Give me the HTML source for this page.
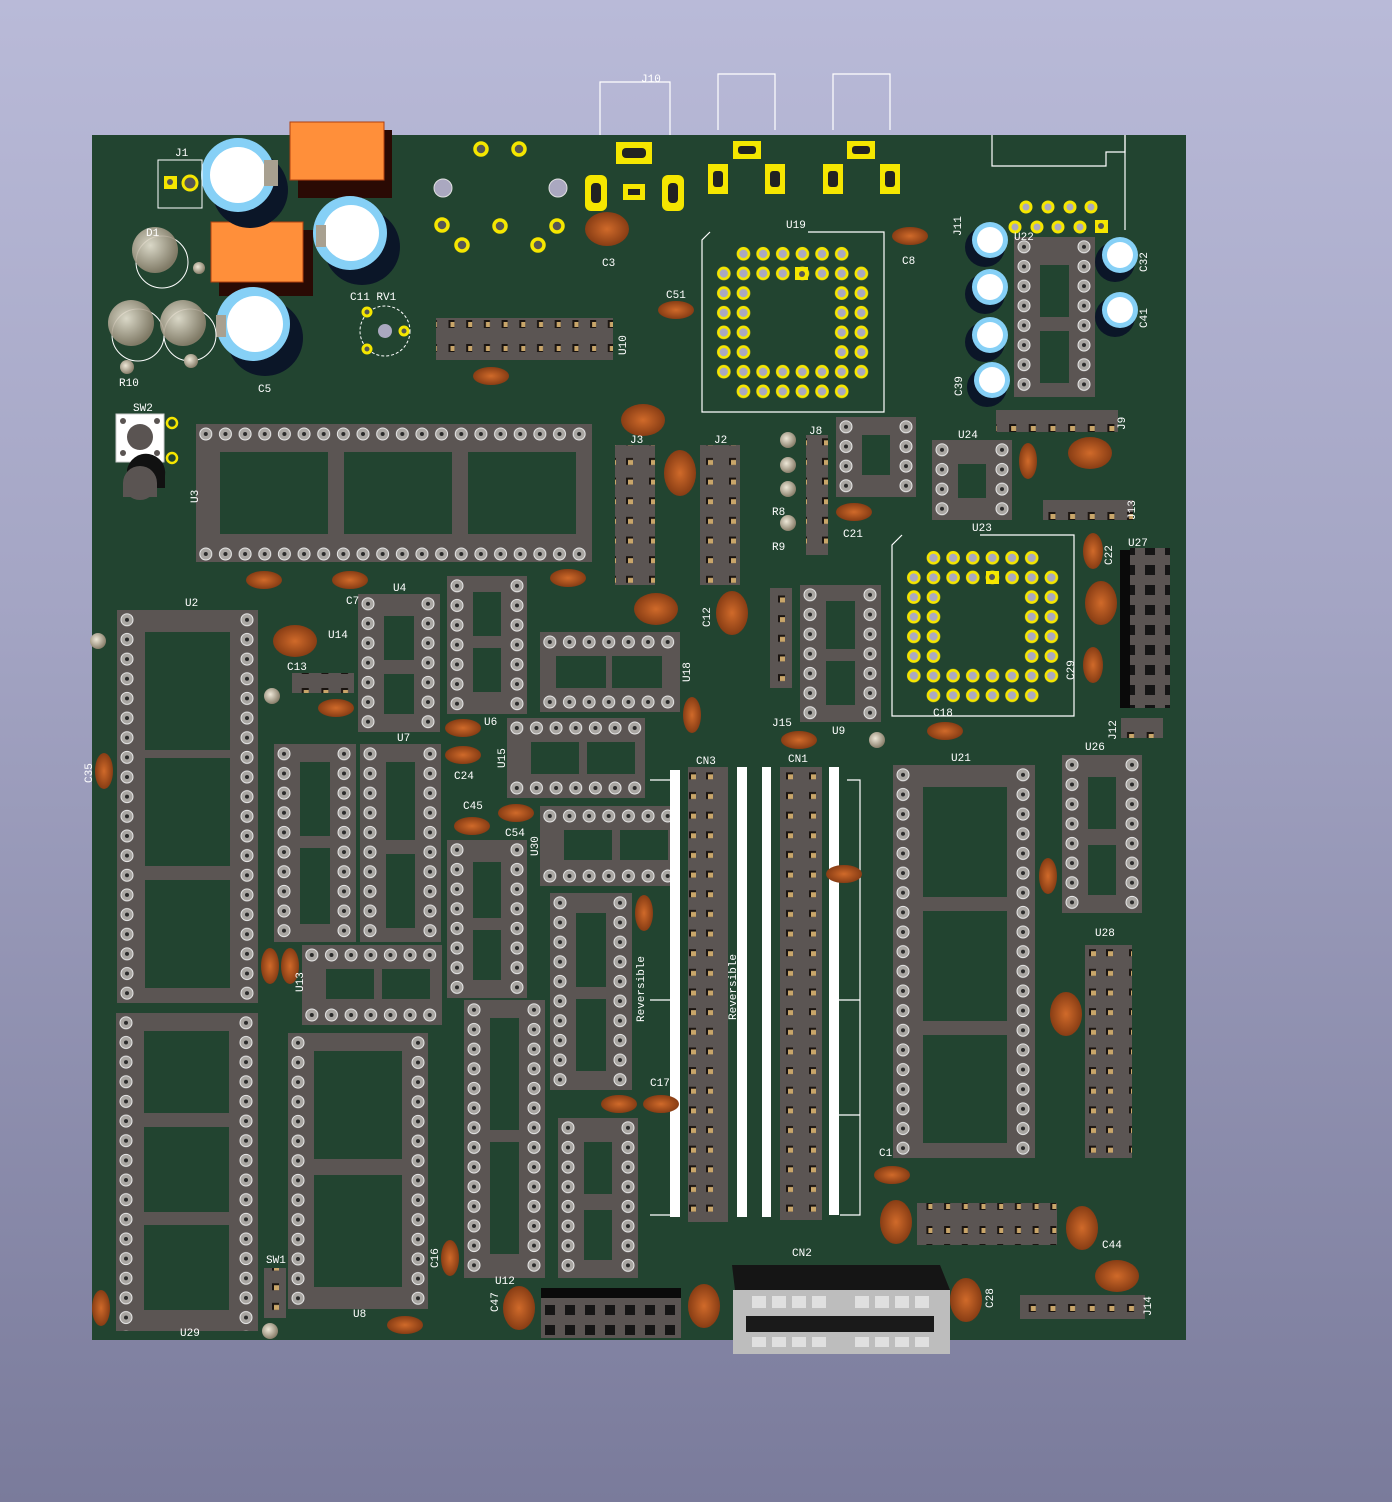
<!DOCTYPE html>
<html><head><meta charset="utf-8"><style>
html,body{margin:0;padding:0}
body{width:1392px;height:1502px;overflow:hidden;background:linear-gradient(#b9bad8 0%,#a4a5c4 40%,#7a7b9b 100%)}
svg{display:block}
text{font-family:"Liberation Mono","DejaVu Sans Mono",monospace;font-size:11px;fill:#fff}
</style></head><body>
<svg width="1392" height="1502" viewBox="0 0 1392 1502" xmlns="http://www.w3.org/2000/svg">
<defs>
<pattern id="pv" width="20" height="19.65" patternUnits="userSpaceOnUse">
<circle cx="10" cy="9.8" r="6" fill="#a9a6a2" stroke="#e8e8e8" stroke-width="1"/><circle cx="10" cy="9.8" r="2" fill="#2a2a2a"/></pattern>
<pattern id="ph" width="19.65" height="20" patternUnits="userSpaceOnUse">
<circle cx="9.8" cy="10" r="6" fill="#a9a6a2" stroke="#e8e8e8" stroke-width="1"/><circle cx="9.8" cy="10" r="2" fill="#2a2a2a"/></pattern>
<pattern id="pg2" width="40" height="19.65" patternUnits="userSpaceOnUse">
<rect x="9" y="6" width="7" height="7" fill="#1a1410"/><rect x="11" y="8" width="5" height="5" fill="#c9a66a"/>
<rect x="26" y="6" width="7" height="7" fill="#1a1410"/><rect x="28" y="8" width="5" height="5" fill="#c9a66a"/></pattern>
<pattern id="pg1" width="22" height="19.65" patternUnits="userSpaceOnUse">
<rect x="8" y="6" width="7" height="7" fill="#1a1410"/><rect x="10" y="8" width="5" height="5" fill="#c9a66a"/></pattern>
<pattern id="phg" width="17.7" height="42" patternUnits="userSpaceOnUse">
<rect x="6" y="8" width="6" height="8" fill="#1a1410"/><rect x="8" y="10" width="4" height="5" fill="#c9a66a"/>
<rect x="6" y="26" width="6" height="8" fill="#1a1410"/><rect x="8" y="28" width="4" height="5" fill="#c9a66a"/></pattern>
<pattern id="phg1" width="19.65" height="22" patternUnits="userSpaceOnUse">
<rect x="7" y="6" width="7" height="8" fill="#1a1410"/><rect x="9" y="8" width="5" height="5" fill="#c9a66a"/></pattern>
<pattern id="pk" width="20" height="20" patternUnits="userSpaceOnUse">
<rect x="5" y="5" width="10" height="10" fill="#151515"/></pattern>
<pattern id="py" width="19.65" height="19.65" patternUnits="userSpaceOnUse">
<circle cx="9.8" cy="9.8" r="5.5" fill="#aaa8c0" stroke="#f5e600" stroke-width="2.6"/></pattern>
<radialGradient id="cg" cx="0.5" cy="0.5" r="0.6"><stop offset="0" stop-color="#d06a2a"/><stop offset="1" stop-color="#7a3410"/></radialGradient>
<radialGradient id="rg" cx="0.4" cy="0.4" r="0.6"><stop offset="0" stop-color="#eee8d8"/><stop offset="1" stop-color="#8a806c"/></radialGradient>
</defs>

<g fill="none" stroke="#fff" stroke-width="1.2">
<path d="M600,140 V82 H670 V140"/><path d="M718,130 V74 H775 V130"/><path d="M833,130 V74 H890 V130"/>
</g>
<text x="641" y="82" font-size="9">J10</text>

<rect x="92" y="135" width="1094" height="1205" fill="#224430"/>
<g fill="none" stroke="#fff" stroke-width="1.2">
<path d="M992,135 V166 H1106 V152 H1125 V135"/>
<path d="M1125,135 V230"/>
<path d="M710,232 L702,240 V412 H884 V232 H808"/>
<path d="M902,535 L892,545 V716 H1074 V535 H980"/>
</g>

<rect x="298" y="130" width="94" height="68" fill="#2a0a04"/>
<rect x="290" y="122" width="94" height="58" fill="#ff8f3a" stroke="#b04010"/>
<rect x="219" y="230" width="94" height="66" fill="#2a0a04"/>
<rect x="211" y="222" width="92" height="60" fill="#ff8f3a" stroke="#b04010"/>

<g>
<circle cx="250" cy="190" r="38" fill="#0b1628"/><circle cx="238" cy="175" r="37" fill="#86d0f6"/><circle cx="238" cy="175" r="28" fill="#fff"/>
<circle cx="362" cy="247" r="38" fill="#0b1628"/><circle cx="350" cy="233" r="37" fill="#86d0f6"/><circle cx="351" cy="233" r="28" fill="#fff"/>
<circle cx="265" cy="338" r="38" fill="#0b1628"/><circle cx="253" cy="324" r="37" fill="#86d0f6"/><circle cx="255" cy="324" r="28" fill="#fff"/>
<rect x="264" y="160" width="14" height="26" fill="#a8a090"/>
<rect x="316" y="225" width="10" height="22" fill="#a8a090"/>
<rect x="216" y="315" width="10" height="22" fill="#a8a090"/>
</g>
<g>
<circle cx="162" cy="262" r="26" fill="none" stroke="#fff" stroke-width="1"/><circle cx="155" cy="250" r="23" fill="url(#rg)" opacity="0.9"/>
<circle cx="138" cy="335" r="26" fill="none" stroke="#fff" stroke-width="1"/><circle cx="131" cy="323" r="23" fill="url(#rg)" opacity="0.9"/>
<circle cx="190" cy="335" r="26" fill="none" stroke="#fff" stroke-width="1"/><circle cx="183" cy="323" r="23" fill="url(#rg)" opacity="0.9"/>
</g>
<rect x="158" y="160" width="44" height="48" fill="none" stroke="#fff"/>
<rect x="164" y="176" width="13" height="13" fill="#f5e600"/><circle cx="170" cy="182" r="3" fill="#555"/>
<circle cx="190" cy="183" r="7" fill="#555" stroke="#f5e600" stroke-width="3"/>
<text x="175" y="156">J1</text>
<circle cx="385" cy="331" r="25" fill="none" stroke="#fff" stroke-dasharray="3 2"/>
<circle cx="385" cy="331" r="7" fill="#aaa8c0"/>
<g fill="#555" stroke="#f5e600" stroke-width="3"><circle cx="367" cy="312" r="4"/><circle cx="404" cy="331" r="4"/><circle cx="367" cy="349" r="4"/></g>
<text x="350" y="300">C11 RV1</text><text x="119" y="386">R10</text><text x="258" y="392">C5</text>

<g fill="#555" stroke="#f5e600" stroke-width="3.5">
<circle cx="481" cy="149" r="6"/><circle cx="519" cy="149" r="6"/>
<circle cx="442" cy="225" r="6"/><circle cx="462" cy="245" r="6"/><circle cx="500" cy="226" r="6"/><circle cx="538" cy="245" r="6"/><circle cx="557" cy="226" r="6"/>
</g>
<circle cx="443" cy="188" r="9" fill="#aaa8c0" stroke="#e0e0e0"/><circle cx="558" cy="188" r="9" fill="#aaa8c0" stroke="#e0e0e0"/>
<g fill="#f5e600">
<rect x="585" y="175" width="22" height="36" rx="6"/><rect x="662" y="175" width="22" height="36" rx="6"/>
<rect x="623" y="184" width="22" height="16"/><rect x="616" y="142" width="36" height="22"/>
<rect x="733" y="141" width="28" height="18"/><rect x="708" y="164" width="20" height="30"/><rect x="765" y="164" width="20" height="30"/>
<rect x="847" y="141" width="28" height="18"/><rect x="823" y="164" width="20" height="30"/><rect x="880" y="164" width="20" height="30"/>
</g>
<g fill="#222"><rect x="591" y="183" width="10" height="20" rx="4"/><rect x="668" y="183" width="10" height="20" rx="4"/><rect x="628" y="189" width="12" height="6"/><rect x="622" y="148" width="24" height="10" rx="4"/>
<rect x="738" y="146" width="18" height="8" rx="3"/><rect x="713" y="171" width="10" height="16" rx="3"/><rect x="770" y="171" width="10" height="16" rx="3"/>
<rect x="852" y="146" width="18" height="8" rx="3"/><rect x="828" y="171" width="10" height="16" rx="3"/><rect x="885" y="171" width="10" height="16" rx="3"/></g>
<g fill="#aaa8c0" stroke="#f5e600" stroke-width="3"><circle cx="1026" cy="207" r="5"/><circle cx="1048" cy="207" r="5"/><circle cx="1070" cy="207" r="5"/><circle cx="1091" cy="207" r="5"/>
<circle cx="1015" cy="227" r="5"/><circle cx="1037" cy="227" r="5"/><circle cx="1058" cy="227" r="5"/><circle cx="1080" cy="227" r="5"/></g>
<rect x="1095" y="220" width="13" height="13" fill="#f5e600"/><circle cx="1101" cy="226" r="3" fill="#555"/>

<g>
<circle cx="985" cy="247" r="20" fill="#0b1628"/><circle cx="990" cy="240" r="18" fill="#86d0f6"/><circle cx="990" cy="240" r="13" fill="#fff"/>
<circle cx="985" cy="294" r="20" fill="#0b1628"/><circle cx="990" cy="287" r="18" fill="#86d0f6"/><circle cx="990" cy="287" r="13" fill="#fff"/>
<circle cx="985" cy="342" r="20" fill="#0b1628"/><circle cx="990" cy="335" r="18" fill="#86d0f6"/><circle cx="990" cy="335" r="13" fill="#fff"/>
<circle cx="987" cy="387" r="20" fill="#0b1628"/><circle cx="992" cy="380" r="18" fill="#86d0f6"/><circle cx="992" cy="380" r="13" fill="#fff"/>
<circle cx="1115" cy="262" r="20" fill="#0b1628"/><circle cx="1120" cy="255" r="18" fill="#86d0f6"/><circle cx="1120" cy="255" r="13" fill="#fff"/>
<circle cx="1115" cy="317" r="20" fill="#0b1628"/><circle cx="1120" cy="310" r="18" fill="#86d0f6"/><circle cx="1120" cy="310" r="13" fill="#fff"/>
</g>

<!-- PLCC U19 -->
<g transform="translate(714,244)" fill="url(#py)">
<rect x="19.65" y="0" width="117.9" height="19.65"/><rect x="0" y="19.65" width="157.2" height="19.65"/>
<rect x="0" y="39.3" width="39.3" height="78.6"/><rect x="117.9" y="39.3" width="39.3" height="78.6"/>
<rect x="0" y="117.9" width="157.2" height="19.65"/><rect x="19.65" y="137.55" width="117.9" height="19.65"/>
</g>
<rect x="795" y="267" width="13" height="13" fill="#f5e600"/><circle cx="802" cy="274" r="3" fill="#555"/>
<!-- PLCC U23 -->
<g transform="translate(904,548)" fill="url(#py)">
<rect x="19.65" y="0" width="117.9" height="19.65"/><rect x="0" y="19.65" width="157.2" height="19.65"/>
<rect x="0" y="39.3" width="39.3" height="78.6"/><rect x="117.9" y="39.3" width="39.3" height="78.6"/>
<rect x="0" y="117.9" width="157.2" height="19.65"/><rect x="19.65" y="137.55" width="117.9" height="19.65"/>
</g>
<rect x="986" y="571" width="13" height="13" fill="#f5e600"/><circle cx="992" cy="577" r="3" fill="#555"/>

<rect x="116" y="414" width="48" height="48" fill="#fff" stroke="#ccc"/><circle cx="140" cy="437" r="13" fill="#5a5452"/>
<g fill="#5a5452"><circle cx="123" cy="421" r="3"/><circle cx="157" cy="421" r="3"/><circle cx="123" cy="453" r="3"/><circle cx="157" cy="453" r="3"/></g>
<g fill="none" stroke="#f5e600" stroke-width="2.5"><circle cx="172" cy="423" r="5"/><circle cx="172" cy="458" r="5"/></g>
<path d="M127,470 a19,19 0 0 1 38,6 v12 h-38z" fill="#111"/><circle cx="140" cy="483" r="17" fill="#5a5452"/><rect x="123" y="483" width="34" height="14" fill="#5a5452"/>
<text x="133" y="411">SW2</text>

<g fill="#5b5553">
<g transform="translate(117,610)"><rect width="141" height="393"/><rect x="28" y="22" width="85" height="118" fill="#224430"/><rect x="28" y="148" width="85" height="108" fill="#224430"/><rect x="28" y="270" width="85" height="108" fill="#224430"/><rect width="20" height="393" fill="url(#pv)"/><rect x="121" width="20" height="393" fill="url(#pv)"/></g>
<g transform="translate(116,1013)"><rect width="142" height="318"/><rect x="28" y="18" width="85" height="82" fill="#224430"/><rect x="28" y="114" width="85" height="85" fill="#224430"/><rect x="28" y="212" width="85" height="85" fill="#224430"/><rect width="20" height="318" fill="url(#pv)"/><rect x="122" width="20" height="318" fill="url(#pv)"/></g>
<g transform="translate(288,1033)"><rect width="140" height="276"/><rect x="26" y="18" width="88" height="108" fill="#224430"/><rect x="26" y="142" width="88" height="112" fill="#224430"/><rect width="20" height="276" fill="url(#pv)"/><rect x="120" width="20" height="276" fill="url(#pv)"/></g>
<g transform="translate(358,594)"><rect width="82" height="138"/><rect x="26" y="22" width="30" height="44" fill="#224430"/><rect x="26" y="80" width="30" height="40" fill="#224430"/><rect width="20" height="138" fill="url(#pv)"/><rect x="62" width="20" height="138" fill="url(#pv)"/></g>
<g transform="translate(447,576)"><rect width="80" height="138"/><rect x="26" y="16" width="28" height="44" fill="#224430"/><rect x="26" y="72" width="28" height="44" fill="#224430"/><rect width="20" height="138" fill="url(#pv)"/><rect x="60" width="20" height="138" fill="url(#pv)"/></g>
<g transform="translate(274,744)"><rect width="82" height="198"/><rect x="26" y="18" width="30" height="74" fill="#224430"/><rect x="26" y="104" width="30" height="76" fill="#224430"/><rect width="20" height="198" fill="url(#pv)"/><rect x="62" width="20" height="198" fill="url(#pv)"/></g>
<g transform="translate(360,744)"><rect width="81" height="198"/><rect x="26" y="18" width="29" height="78" fill="#224430"/><rect x="26" y="110" width="29" height="74" fill="#224430"/><rect width="20" height="198" fill="url(#pv)"/><rect x="61" width="20" height="198" fill="url(#pv)"/></g>
<g transform="translate(447,840)"><rect width="80" height="158"/><rect x="26" y="22" width="28" height="56" fill="#224430"/><rect x="26" y="90" width="28" height="50" fill="#224430"/><rect width="20" height="158" fill="url(#pv)"/><rect x="60" width="20" height="158" fill="url(#pv)"/></g>
<g transform="translate(464,1000)"><rect width="81" height="278"/><rect x="26" y="18" width="29" height="112" fill="#224430"/><rect x="26" y="142" width="29" height="112" fill="#224430"/><rect width="20" height="278" fill="url(#pv)"/><rect x="61" width="20" height="278" fill="url(#pv)"/></g>
<g transform="translate(550,893)"><rect width="82" height="197"/><rect x="26" y="20" width="30" height="74" fill="#224430"/><rect x="26" y="106" width="30" height="72" fill="#224430"/><rect width="20" height="197" fill="url(#pv)"/><rect x="62" width="20" height="197" fill="url(#pv)"/></g>
<g transform="translate(558,1118)"><rect width="80" height="160"/><rect x="26" y="24" width="28" height="52" fill="#224430"/><rect x="26" y="92" width="28" height="50" fill="#224430"/><rect width="20" height="160" fill="url(#pv)"/><rect x="60" width="20" height="160" fill="url(#pv)"/></g>
<g transform="translate(800,585)"><rect width="81" height="137"/><rect x="26" y="16" width="29" height="48" fill="#224430"/><rect x="26" y="76" width="29" height="44" fill="#224430"/><rect width="20" height="137" fill="url(#pv)"/><rect x="61" width="20" height="137" fill="url(#pv)"/></g>
<g transform="translate(893,765)"><rect width="142" height="393"/><rect x="30" y="22" width="84" height="110" fill="#224430"/><rect x="30" y="146" width="84" height="110" fill="#224430"/><rect x="30" y="270" width="84" height="108" fill="#224430"/><rect width="20" height="393" fill="url(#pv)"/><rect x="122" width="20" height="393" fill="url(#pv)"/></g>
<g transform="translate(1062,755)"><rect width="80" height="158"/><rect x="26" y="22" width="28" height="52" fill="#224430"/><rect x="26" y="90" width="28" height="50" fill="#224430"/><rect width="20" height="158" fill="url(#pv)"/><rect x="60" width="20" height="158" fill="url(#pv)"/></g>
<g transform="translate(932,440)"><rect width="80" height="80"/><rect x="26" y="24" width="28" height="34" fill="#224430"/><rect width="20" height="80" fill="url(#pv)"/><rect x="60" width="20" height="80" fill="url(#pv)"/></g>
<g transform="translate(836,417)"><rect width="80" height="80"/><rect x="26" y="18" width="28" height="40" fill="#224430"/><rect width="20" height="80" fill="url(#pv)"/><rect x="60" width="20" height="80" fill="url(#pv)"/></g>
<g transform="translate(1014,237)"><rect width="81" height="160"/><rect x="26" y="28" width="29" height="52" fill="#224430"/><rect x="26" y="94" width="29" height="52" fill="#224430"/><rect width="20" height="160" fill="url(#pv)"/><rect x="61" width="20" height="160" fill="url(#pv)"/></g>
</g>

<g fill="#5b5553">
<g transform="translate(196,424)"><rect width="396" height="138"/><rect x="24" y="28" width="108" height="82" fill="#224430"/><rect x="148" y="28" width="108" height="82" fill="#224430"/><rect x="272" y="28" width="108" height="82" fill="#224430"/><rect width="396" height="20" fill="url(#ph)"/><rect y="118" width="396" height="20" fill="url(#ph)"/></g>
<g transform="translate(540,632)"><rect width="140" height="80"/><rect x="16" y="24" width="50" height="32" fill="#224430"/><rect x="72" y="24" width="50" height="32" fill="#224430"/><rect width="140" height="20" fill="url(#ph)"/><rect y="60" width="140" height="20" fill="url(#ph)"/></g>
<g transform="translate(507,718)"><rect width="138" height="80"/><rect x="24" y="24" width="48" height="32" fill="#224430"/><rect x="80" y="24" width="48" height="32" fill="#224430"/><rect width="138" height="20" fill="url(#ph)"/><rect y="60" width="138" height="20" fill="url(#ph)"/></g>
<g transform="translate(540,806)"><rect width="140" height="80"/><rect x="24" y="24" width="48" height="30" fill="#224430"/><rect x="80" y="24" width="48" height="30" fill="#224430"/><rect width="140" height="20" fill="url(#ph)"/><rect y="60" width="140" height="20" fill="url(#ph)"/></g>
<g transform="translate(302,945)"><rect width="140" height="80"/><rect x="24" y="24" width="48" height="30" fill="#224430"/><rect x="80" y="24" width="48" height="30" fill="#224430"/><rect width="140" height="20" fill="url(#ph)"/><rect y="60" width="140" height="20" fill="url(#ph)"/></g>
</g>

<g fill="#5b5553">
<rect x="615" y="445" width="40" height="140"/><rect x="615" y="445" width="40" height="140" fill="url(#pg2)"/>
<rect x="700" y="445" width="40" height="140"/><rect x="700" y="445" width="40" height="140" fill="url(#pg2)"/>
<rect x="688" y="767" width="40" height="455"/><rect x="688" y="767" width="40" height="455" fill="url(#pg2)"/>
<rect x="780" y="767" width="42" height="453"/><rect x="780" y="767" width="42" height="453" fill="url(#pg2)"/>
<rect x="806" y="435" width="22" height="120"/><rect x="806" y="435" width="22" height="120" fill="url(#pg1)"/>
<rect x="770" y="588" width="22" height="100"/><rect x="770" y="588" width="22" height="100" fill="url(#pg1)"/>
<rect x="436" y="318" width="177" height="42"/><rect x="436" y="318" width="177" height="42" fill="url(#phg)"/>
<rect x="996" y="410" width="122" height="22"/><rect x="996" y="410" width="122" height="22" fill="url(#phg1)"/>
<rect x="1043" y="500" width="90" height="20"/><rect x="1043" y="500" width="90" height="20" fill="url(#phg1)"/>
<rect x="1020" y="1295" width="125" height="24"/><rect x="1020" y="1295" width="125" height="24" fill="url(#phg1)"/>
<rect x="917" y="1203" width="140" height="42"/><rect x="917" y="1203" width="140" height="42" fill="url(#phg)"/>
<rect x="1085" y="945" width="47" height="213"/><rect x="1085" y="945" width="47" height="213" fill="url(#pg2)"/>
<rect x="292" y="673" width="62" height="20"/><rect x="292" y="673" width="62" height="20" fill="url(#phg1)"/>
<rect x="1121" y="718" width="42" height="20"/><rect x="1121" y="718" width="42" height="20" fill="url(#phg1)"/>
<rect x="264" y="1268" width="22" height="50"/><rect x="264" y="1268" width="22" height="50" fill="url(#pg1)"/>
</g>
<rect x="1120" y="550" width="12" height="158" fill="#0a0a0a"/><rect x="1130" y="548" width="40" height="160" fill="#5b5553"/><rect x="1130" y="548" width="40" height="160" fill="url(#pk)"/>
<rect x="541" y="1288" width="140" height="12" fill="#0a0a0a"/><rect x="541" y="1298" width="140" height="40" fill="#5b5553"/><rect x="541" y="1298" width="140" height="40" fill="url(#pk)"/>

<g fill="#fff"><rect x="670" y="770" width="10" height="447"/><rect x="737" y="767" width="10" height="450"/><rect x="762" y="767" width="9" height="450"/><rect x="829" y="767" width="10" height="448"/></g>
<g fill="none" stroke="#fff" stroke-width="1.2"><path d="M650,780 H670 M650,1000 H670 M650,1215 H670 M847,780 H860 V1215 H840 M839,1000 H860 M839,1115 H860"/></g>

<path d="M732,1265 H940 L950,1290 H735Z" fill="#151515"/>
<rect x="733" y="1290" width="217" height="64" fill="#bdbdbd"/>
<rect x="746" y="1316" width="188" height="16" fill="#1a1a1a"/>
<g fill="#e0e0e0"><rect x="752" y="1296" width="14" height="12"/><rect x="772" y="1296" width="14" height="12"/><rect x="792" y="1296" width="14" height="12"/><rect x="812" y="1296" width="14" height="12"/><rect x="855" y="1296" width="14" height="12"/><rect x="875" y="1296" width="14" height="12"/><rect x="895" y="1296" width="14" height="12"/><rect x="915" y="1296" width="14" height="12"/>
<rect x="752" y="1337" width="14" height="10"/><rect x="772" y="1337" width="14" height="10"/><rect x="792" y="1337" width="14" height="10"/><rect x="812" y="1337" width="14" height="10"/><rect x="855" y="1337" width="14" height="10"/><rect x="875" y="1337" width="14" height="10"/><rect x="895" y="1337" width="14" height="10"/><rect x="915" y="1337" width="14" height="10"/></g>

<g fill="url(#cg)">
<ellipse cx="607" cy="229" rx="22" ry="17"/><ellipse cx="910" cy="236" rx="18" ry="9"/><ellipse cx="676" cy="310" rx="18" ry="9"/><ellipse cx="491" cy="376" rx="18" ry="9"/>
<ellipse cx="643" cy="420" rx="22" ry="16"/><ellipse cx="680" cy="473" rx="16" ry="23"/><ellipse cx="264" cy="580" rx="18" ry="9"/><ellipse cx="350" cy="580" rx="18" ry="9"/><ellipse cx="568" cy="578" rx="18" ry="9"/>
<ellipse cx="295" cy="641" rx="22" ry="16"/><ellipse cx="336" cy="708" rx="18" ry="9"/><ellipse cx="656" cy="609" rx="22" ry="16"/><ellipse cx="732" cy="613" rx="16" ry="22"/><ellipse cx="692" cy="715" rx="9" ry="18"/>
<ellipse cx="463" cy="728" rx="18" ry="9"/><ellipse cx="463" cy="755" rx="18" ry="9"/><ellipse cx="472" cy="826" rx="18" ry="9"/><ellipse cx="516" cy="813" rx="18" ry="9"/>
<ellipse cx="799" cy="740" rx="18" ry="9"/><ellipse cx="945" cy="731" rx="18" ry="9"/><ellipse cx="104" cy="771" rx="9" ry="18"/><ellipse cx="844" cy="874" rx="18" ry="9"/>
<ellipse cx="1028" cy="461" rx="9" ry="18"/><ellipse cx="1090" cy="453" rx="22" ry="16"/><ellipse cx="854" cy="512" rx="18" ry="9"/>
<ellipse cx="1093" cy="551" rx="10" ry="18"/><ellipse cx="1101" cy="603" rx="16" ry="22"/><ellipse cx="1093" cy="665" rx="10" ry="18"/>
<ellipse cx="1048" cy="876" rx="9" ry="18"/><ellipse cx="1066" cy="1014" rx="16" ry="22"/><ellipse cx="644" cy="913" rx="9" ry="18"/>
<ellipse cx="270" cy="966" rx="9" ry="18"/><ellipse cx="290" cy="966" rx="9" ry="18"/><ellipse cx="619" cy="1104" rx="18" ry="9"/><ellipse cx="661" cy="1104" rx="18" ry="9"/>
<ellipse cx="892" cy="1175" rx="18" ry="9"/><ellipse cx="896" cy="1222" rx="16" ry="22"/><ellipse cx="1082" cy="1228" rx="16" ry="22"/><ellipse cx="1117" cy="1276" rx="22" ry="16"/>
<ellipse cx="450" cy="1258" rx="9" ry="18"/><ellipse cx="519" cy="1308" rx="16" ry="22"/><ellipse cx="704" cy="1306" rx="16" ry="22"/><ellipse cx="966" cy="1300" rx="16" ry="22"/>
<ellipse cx="405" cy="1325" rx="18" ry="9"/><ellipse cx="101" cy="1308" rx="9" ry="18"/>
</g>

<g fill="url(#rg)"><circle cx="98" cy="641" r="8"/><circle cx="272" cy="696" r="8"/><circle cx="877" cy="740" r="8"/><circle cx="788" cy="440" r="8"/><circle cx="788" cy="465" r="8"/><circle cx="788" cy="489" r="8"/><circle cx="788" cy="523" r="8"/><circle cx="270" cy="1331" r="8"/><circle cx="127" cy="367" r="7"/><circle cx="191" cy="361" r="7"/><circle cx="199" cy="268" r="6"/></g>

<text x="786" y="228">U19</text><text x="602" y="266">C3</text><text x="902" y="264">C8</text><text x="666" y="298">C51</text>
<text x="630" y="443">J3</text><text x="714" y="443">J2</text><text x="809" y="434">J8</text><text x="772" y="515">R8</text><text x="772" y="550">R9</text>
<text x="843" y="537">C21</text><text x="958" y="438">U24</text><text x="972" y="531">U23</text><text x="1128" y="546">U27</text>
<text x="185" y="606">U2</text><text x="393" y="591">U4</text><text x="328" y="638">U14</text><text x="287" y="670">C13</text><text x="346" y="604">C7</text>
<text x="454" y="779">C24</text><text x="463" y="809">C45</text><text x="505" y="836">C54</text><text x="397" y="741">U7</text><text x="484" y="725">U6</text>
<text x="788" y="762">CN1</text><text x="696" y="764">CN3</text><text x="832" y="734">U9</text><text x="933" y="716">C18</text><text x="951" y="761">U21</text>
<text x="1085" y="750">U26</text><text x="1095" y="936">U28</text><text x="1102" y="1248">C44</text><text x="792" y="1256">CN2</text>
<text x="180" y="1336">U29</text><text x="353" y="1317">U8</text><text x="266" y="1263">SW1</text><text x="495" y="1284">U12</text><text x="650" y="1086">C17</text><text x="879" y="1156">C1</text>
<text x="772" y="726">J15</text><text x="1014" y="240">U22</text><text x="146" y="236">D1</text>
<g font-size="10"><text transform="translate(644,1022) rotate(-90)">Reversible</text><text transform="translate(736,1020) rotate(-90)">Reversible</text></g>
<text transform="translate(198,503) rotate(-90)">U3</text><text transform="translate(626,355) rotate(-90)">U10</text><text transform="translate(690,682) rotate(-90)">U18</text>
<text transform="translate(505,768) rotate(-90)">U15</text><text transform="translate(538,856) rotate(-90)">U30</text><text transform="translate(710,627) rotate(-90)">C12</text>
<text transform="translate(961,236) rotate(-90)">J11</text><text transform="translate(1147,272) rotate(-90)">C32</text><text transform="translate(1147,328) rotate(-90)">C41</text>
<text transform="translate(962,396) rotate(-90)">C39</text><text transform="translate(1125,430) rotate(-90)">J9</text><text transform="translate(1135,520) rotate(-90)">J13</text>
<text transform="translate(1112,565) rotate(-90)">C22</text><text transform="translate(1074,680) rotate(-90)">C29</text><text transform="translate(1116,740) rotate(-90)">J12</text>
<text transform="translate(92,783) rotate(-90)">C35</text><text transform="translate(438,1268) rotate(-90)">C16</text><text transform="translate(498,1312) rotate(-90)">C47</text>
<text transform="translate(993,1308) rotate(-90)">C28</text><text transform="translate(1151,1316) rotate(-90)">J14</text><text transform="translate(303,992) rotate(-90)">U13</text>
</svg>
</body></html>
